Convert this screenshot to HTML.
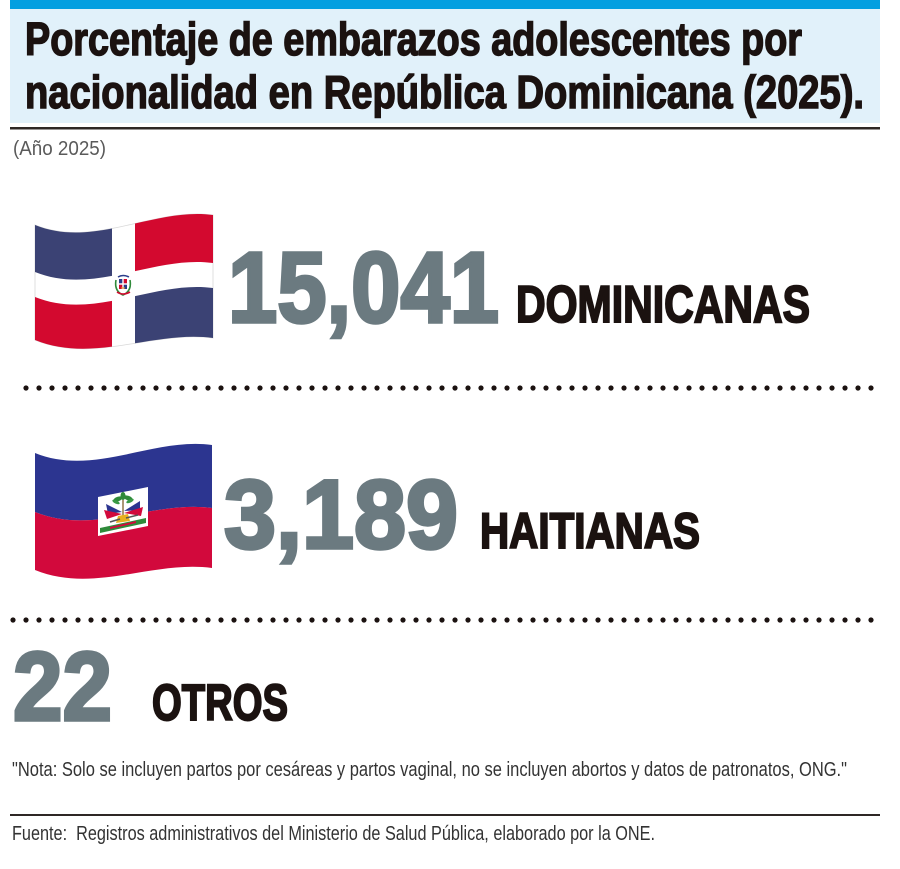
<!DOCTYPE html>
<html>
<head>
<meta charset="utf-8">
<style>
  html, body { margin:0; padding:0; background:#ffffff; }
  body { width:900px; height:869px; overflow:hidden; }
  svg { display:block; }
  text { font-family:"Liberation Sans", "DejaVu Sans", sans-serif; }
</style>
</head>
<body>
<svg width="900" height="869" viewBox="0 0 900 869" xmlns="http://www.w3.org/2000/svg">
  <defs>
    <clipPath id="leftc"><rect x="0" y="0" width="112" height="869"/></clipPath>
    <clipPath id="rightc"><rect x="135" y="0" width="765" height="869"/></clipPath>
  </defs>

  <!-- Header -->
  <rect x="10" y="0" width="870" height="9" fill="#049fe0"/>
  <rect x="10" y="9" width="870" height="114" fill="#e1f1fa"/>
  <text x="25" y="55" font-size="46" font-weight="bold" fill="#1b1210" stroke="#1b1210" stroke-width="1.5" textLength="777" lengthAdjust="spacingAndGlyphs">Porcentaje de embarazos adolescentes por</text>
  <text x="25" y="108" font-size="46" font-weight="bold" fill="#1b1210" stroke="#1b1210" stroke-width="1.5" textLength="839" lengthAdjust="spacingAndGlyphs">nacionalidad en República Dominicana (2025).</text>
  <rect x="10" y="127" width="870" height="2.5" fill="#2e2725"/>
  <text x="13" y="155" font-size="20" fill="#5a5a5a" textLength="93" lengthAdjust="spacingAndGlyphs">(Año 2025)</text>

  <!-- Dominican flag -->
  <path d="M35,225 C94,249 154,207 213,215 L213,338 C154,330 94,364 35,340 Z" fill="#ffffff" stroke="#d8d8d8" stroke-width="0.8"/>
  <g clip-path="url(#leftc)">
    <path d="M35,225 C94,249 154,207 213,215 L213,263 C154,255 94,296 35,272 Z" fill="#3b4274"/>
    <path d="M35,297 C94,321 154,280 213,288 L213,338 C154,330 94,364 35,340 Z" fill="#d3092f"/>
  </g>
  <g clip-path="url(#rightc)">
    <path d="M35,225 C94,249 154,207 213,215 L213,263 C154,255 94,296 35,272 Z" fill="#d3092f"/>
    <path d="M35,297 C94,321 154,280 213,288 L213,338 C154,330 94,364 35,340 Z" fill="#3b4274"/>
  </g>
  <!-- DR coat of arms -->
  <g>
    <path d="M116,280 Q114,291 123,295 Q132,291 130,280" fill="none" stroke="#2f8a3a" stroke-width="1.6"/>
    <path d="M118,277 Q123,274 129,277" fill="none" stroke="#2c3d8a" stroke-width="1.5"/>
    <rect x="119" y="279" width="4" height="5" fill="#2c3d8a"/>
    <rect x="123" y="279" width="4" height="5" fill="#d3092f"/>
    <rect x="119" y="284" width="4" height="5" fill="#d3092f"/>
    <rect x="123" y="284" width="4" height="5" fill="#2c3d8a"/>
    <rect x="122.3" y="279" width="1.4" height="10" fill="#ffffff"/>
    <rect x="119" y="283.3" width="8" height="1.4" fill="#ffffff"/>
    <path d="M117,292 Q123,296 130,292" fill="none" stroke="#d3092f" stroke-width="1.6"/>
    <path d="M121,288 L125,288" stroke="#e8a020" stroke-width="1"/>
  </g>

  <text x="228" y="322" font-size="100" font-weight="bold" fill="#6b7a80" stroke="#6b7a80" stroke-width="3.5" textLength="271" lengthAdjust="spacingAndGlyphs">15,041</text>
  <text x="516" y="322" font-size="52" font-weight="bold" fill="#1b1210" stroke="#1b1210" stroke-width="2" textLength="294" lengthAdjust="spacingAndGlyphs">DOMINICANAS</text>

  <!-- dotted line 1 -->
  <line x1="26" y1="388" x2="880" y2="388" stroke="#1b1210" stroke-width="5.2" stroke-linecap="round" stroke-dasharray="0 13"/>

  <!-- Haiti flag -->
  <path d="M35,453 C94,477 153,437 212,445 L212,508 C153,500 94,536 35,512 Z" fill="#2c3590"/>
  <path d="M35,512 C94,536 153,500 212,508 L212,568 C153,560 94,594 35,570 Z" fill="#d2093c"/>
  <!-- Haiti emblem -->
  <polygon points="98,497 148,487 148,526 98,536" fill="#ffffff"/>
  <g>
    <line x1="123" y1="500" x2="123" y2="520" stroke="#8a6a3a" stroke-width="1.4"/>
    <ellipse cx="118" cy="499" rx="5" ry="2.2" fill="#2f8a3a" transform="rotate(-20 118 499)"/>
    <ellipse cx="128" cy="498" rx="5" ry="2.2" fill="#2f8a3a" transform="rotate(20 128 498)"/>
    <ellipse cx="123" cy="496" rx="2.5" ry="4" fill="#2f8a3a"/>
    <ellipse cx="116" cy="502" rx="4" ry="1.6" fill="#3a9a45" transform="rotate(25 116 502)"/>
    <ellipse cx="130" cy="501" rx="4" ry="1.6" fill="#3a9a45" transform="rotate(-25 130 501)"/>
    <polygon points="122,512 106,504 108,514" fill="#2c3590"/>
    <polygon points="122,514 104,510 107,519" fill="#d2093c"/>
    <polygon points="124,511 140,501 140,510" fill="#2c3590"/>
    <polygon points="124,513 143,507 141,516" fill="#d2093c"/>
    <polygon points="118,516 128,514 130,521 116,523" fill="#e8b020"/>
    <line x1="110" y1="522" x2="120" y2="519" stroke="#555" stroke-width="1.5"/>
    <line x1="126" y1="518" x2="138" y2="515" stroke="#555" stroke-width="1.5"/>
    <polygon points="100,528 146,518 146,523 100,533" fill="#2f8a3a"/>
    <polygon points="110,527 136,521 136,523 110,529" fill="#d2093c"/>
  </g>

  <text x="224" y="548" font-size="97" font-weight="bold" fill="#6b7a80" stroke="#6b7a80" stroke-width="3.5" textLength="234" lengthAdjust="spacingAndGlyphs">3,189</text>
  <text x="480" y="548" font-size="50" font-weight="bold" fill="#1b1210" stroke="#1b1210" stroke-width="2" textLength="220" lengthAdjust="spacingAndGlyphs">HAITIANAS</text>

  <!-- dotted line 2 -->
  <line x1="13" y1="620" x2="880" y2="620" stroke="#1b1210" stroke-width="5.2" stroke-linecap="round" stroke-dasharray="0 13"/>

  <text x="13" y="720" font-size="97" font-weight="bold" fill="#6b7a80" stroke="#6b7a80" stroke-width="3.5" textLength="99" lengthAdjust="spacingAndGlyphs">22</text>
  <text x="152" y="720" font-size="51" font-weight="bold" fill="#1b1210" stroke="#1b1210" stroke-width="2" textLength="136" lengthAdjust="spacingAndGlyphs">OTROS</text>

  <!-- Notes -->
  <text x="12" y="776" font-size="20" fill="#333333" textLength="835" lengthAdjust="spacingAndGlyphs">"Nota: Solo se incluyen partos por cesáreas y partos vaginal, no se incluyen abortos y datos de patronatos, ONG."</text>
  <rect x="10" y="814" width="870" height="2" fill="#2e2725"/>
  <text x="12" y="840" font-size="20" fill="#333333" textLength="643" lengthAdjust="spacingAndGlyphs">Fuente:&#160; Registros administrativos del Ministerio de Salud Pública, elaborado por la ONE.</text>
</svg>
</body>
</html>
